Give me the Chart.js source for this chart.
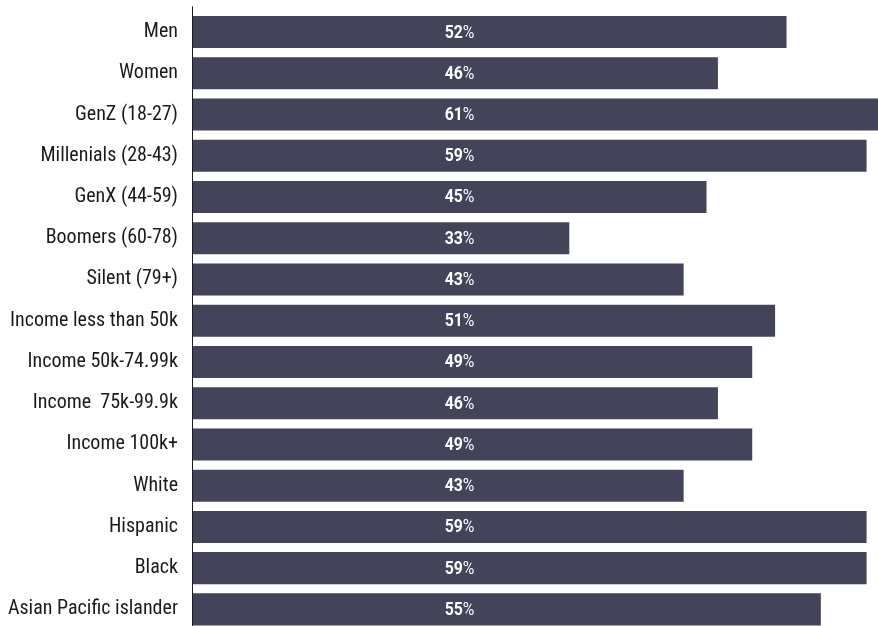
<!DOCTYPE html>
<html>
<head>
<meta charset="utf-8">
<script src="https://cdn.jsdelivr.net/npm/chart.js@4.4.1/dist/chart.umd.min.js"></script>
<style>
  html, body { margin: 0; padding: 0; background: #ffffff; overflow: hidden; }
  #wrap { position: relative; width: 878px; height: 636px; }
</style>
</head>
<body>
<div id="wrap"><canvas id="c" width="878" height="636"></canvas></div>
<script>
const categories = [
  "Men", "Women", "GenZ (18-27)", "Millenials (28-43)", "GenX (44-59)",
  "Boomers (60-78)", "Silent (79+)", "Income less than 50k", "Income 50k-74.99k",
  "Income  75k-99.9k", "Income 100k+", "White", "Hispanic", "Black", "Asian Pacific islander"
];
const values = [52, 46, 61, 59, 45, 33, 43, 51, 49, 46, 49, 43, 59, 59, 55];
const axisMin = 0;
const axisMax = 60;
const labelAnchorValue = 23.4;

const BAR_COLOR = "#434359";
const LABEL_FONT = "'Liberation Sans Narrow', 'Roboto Condensed', 'DejaVu Sans Condensed', sans-serif";

const axisLinePlugin = {
  id: "axisLine",
  afterDraw(chart) {
    const ctx = chart.ctx;
    const x = Math.round(chart.chartArea.left) + 0.5;
    ctx.save();
    ctx.strokeStyle = "#1a1a1a";
    ctx.lineWidth = 1;
    ctx.beginPath();
    ctx.moveTo(x, chart.chartArea.top - 5);
    ctx.lineTo(x, chart.height);
    ctx.stroke();
    ctx.restore();
  }
};

const valueLabelPlugin = {
  id: "valueLabels",
  afterDatasetsDraw(chart) {
    const ctx = chart.ctx;
    const meta = chart.getDatasetMeta(0);
    const xs = chart.scales.x;
    const cx = xs.getPixelForValue(labelAnchorValue);
    const sx = 0.88;
    const boldFont = "bold 18px Roboto, 'Noto Sans', sans-serif";
    const regFont = "18px Roboto, 'Noto Sans', sans-serif";
    ctx.save();
    ctx.fillStyle = "#ffffff";
    ctx.textBaseline = "middle";
    ctx.textAlign = "left";
    meta.data.forEach((bar, i) => {
      const num = String(values[i]);
      ctx.font = boldFont;
      const w1 = ctx.measureText(num).width;
      ctx.font = regFont;
      const w2 = ctx.measureText("%").width;
      ctx.save();
      ctx.translate(cx, bar.y + 1);
      ctx.scale(sx, 1);
      const start = -(w1 + w2) / 2;
      ctx.font = boldFont;
      ctx.fillText(num, start, 0);
      ctx.font = regFont;
      ctx.fillText("%", start + w1, 0);
      ctx.restore();
    });
    ctx.restore();
  }
};

new Chart(document.getElementById("c"), {
  type: "bar",
  data: {
    labels: categories,
    datasets: [{
      data: values,
      backgroundColor: BAR_COLOR,
      borderWidth: 0,
      barPercentage: 0.777,
      categoryPercentage: 1.0
    }]
  },
  options: {
    indexAxis: "y",
    responsive: false,
    animation: false,
    layout: { padding: { top: 11.4, bottom: 6, left: 0, right: 0 } },
    plugins: {
      legend: { display: false },
      tooltip: { enabled: false }
    },
    scales: {
      x: {
        display: false,
        min: axisMin,
        max: axisMax
      },
      y: {
        afterFit(scale) {
          scale.width = 192;
          scale.paddingTop = 0;
          scale.paddingBottom = 0;
        },
        grid: { display: false, drawTicks: false },
        border: { display: false },
        ticks: {
          color: "#1a1a1a",
          padding: 14,
          font: { family: LABEL_FONT, size: 20 }
        }
      }
    }
  },
  plugins: [axisLinePlugin, valueLabelPlugin]
});
</script>
</body>
</html>
